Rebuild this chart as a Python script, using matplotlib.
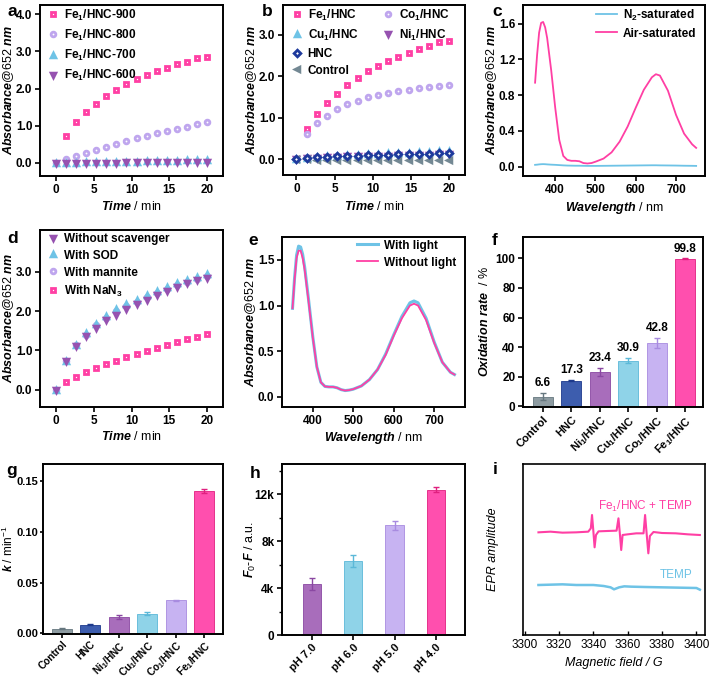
import matplotlib
matplotlib.use("Agg")
import matplotlib.pyplot as plt
import numpy as np
from matplotlib.ticker import MultipleLocator, FuncFormatter

plt.rcParams['font.family'] = ['Liberation Sans', 'DejaVu Sans']
plt.rcParams['mathtext.fontset'] = 'custom'
plt.rcParams['mathtext.it'] = 'Liberation Sans:italic:bold'
plt.rcParams['mathtext.bf'] = 'Liberation Sans:bold'
plt.rcParams['mathtext.rm'] = 'Liberation Sans'
plt.rcParams['axes.linewidth'] = 1.4

# ---------------- colours ----------------
PINK = '#FF3FA4'
LAV = '#BFA6EE'
CYAN = '#6EC3E6'
PURP = '#9652B0'
DBLUE = '#1E3A9C'
GREY = '#738893'

# ---------------- data ----------------
time_min = [0, 1.33, 2.67, 4.0, 5.33, 6.67, 8.0, 9.33, 10.67, 12.0, 13.33, 14.67, 16.0, 17.33, 18.67, 20.0]

a_fe900 = [0.0, 0.72, 1.09, 1.36, 1.58, 1.79, 1.96, 2.12, 2.25, 2.37, 2.47, 2.56, 2.65, 2.73, 2.82, 2.86]
a_fe800 = [0.0, 0.12, 0.20, 0.28, 0.36, 0.43, 0.51, 0.58, 0.66, 0.73, 0.80, 0.86, 0.92, 0.98, 1.04, 1.10]
a_fe700 = [0.0, 0.01, 0.01, 0.02, 0.02, 0.03, 0.03, 0.04, 0.04, 0.05, 0.05, 0.06, 0.06, 0.07, 0.07, 0.08]
a_fe600 = [0.0, 0.0, 0.0, 0.01, 0.01, 0.01, 0.01, 0.02, 0.02, 0.02, 0.02, 0.02, 0.03, 0.03, 0.03, 0.03]

b_fe = [0.0, 0.72, 1.09, 1.36, 1.58, 1.79, 1.96, 2.12, 2.25, 2.37, 2.47, 2.56, 2.65, 2.73, 2.82, 2.86]
b_co = [0.0, 0.60, 0.88, 1.05, 1.20, 1.33, 1.41, 1.49, 1.55, 1.60, 1.64, 1.68, 1.71, 1.74, 1.76, 1.78]
b_cu = [0.0, 0.04, 0.06, 0.08, 0.09, 0.10, 0.11, 0.12, 0.13, 0.14, 0.15, 0.16, 0.17, 0.18, 0.19, 0.20]
b_ni = [0.0, 0.03, 0.04, 0.05, 0.06, 0.07, 0.07, 0.08, 0.09, 0.09, 0.10, 0.10, 0.11, 0.11, 0.12, 0.12]
b_hnc = [0.0, 0.03, 0.05, 0.06, 0.07, 0.08, 0.09, 0.10, 0.11, 0.11, 0.12, 0.12, 0.13, 0.13, 0.14, 0.15]
b_ctrl = [0.0, 0.0, -0.01, -0.01, -0.01, -0.02, -0.02, -0.02, -0.02, -0.02, -0.02, -0.02, -0.02, -0.02, -0.02, -0.02]

wl_c = [350, 355, 360, 365, 370, 375, 380, 390, 400, 410, 420, 430, 440, 450, 460, 470, 480, 490, 500,
        520, 540, 560, 580, 600, 620, 640, 650, 660, 680, 700, 720, 740, 750]
c_air = [0.94, 1.25, 1.50, 1.61, 1.62, 1.56, 1.44, 1.08, 0.66, 0.30, 0.12, 0.075, 0.065, 0.065, 0.06, 0.04,
         0.035, 0.04, 0.055, 0.09, 0.16, 0.28, 0.45, 0.66, 0.86, 1.00, 1.035, 1.02, 0.85, 0.58, 0.37, 0.25, 0.21]
c_n2 = [0.02, 0.022, 0.025, 0.027, 0.028, 0.027, 0.025, 0.022, 0.02, 0.017, 0.014, 0.012, 0.011, 0.01, 0.01,
        0.009, 0.008, 0.008, 0.008, 0.009, 0.01, 0.011, 0.012, 0.013, 0.014, 0.015, 0.015, 0.014, 0.013,
        0.012, 0.01, 0.009, 0.008]

d_without = [0.0, 0.72, 1.10, 1.37, 1.58, 1.76, 1.91, 2.05, 2.17, 2.28, 2.40, 2.50, 2.60, 2.70, 2.78, 2.85]
d_sod = [0.0, 0.72, 1.13, 1.43, 1.68, 1.87, 2.04, 2.17, 2.28, 2.40, 2.50, 2.60, 2.70, 2.78, 2.86, 2.93]
d_mannite = [0.0, 0.72, 1.13, 1.40, 1.64, 1.83, 1.99, 2.12, 2.24, 2.35, 2.46, 2.56, 2.65, 2.74, 2.82, 2.90]
d_nan3 = [0.0, 0.19, 0.32, 0.45, 0.55, 0.65, 0.74, 0.83, 0.91, 0.99, 1.07, 1.14, 1.21, 1.28, 1.34, 1.41]

wl_e = [350, 355, 360, 365, 370, 375, 380, 390, 400, 410, 420, 430, 440, 450, 460, 470, 480, 490, 500,
        520, 540, 560, 580, 600, 620, 640, 650, 660, 680, 700, 720, 740, 750]
e_light = [0.97, 1.30, 1.55, 1.65, 1.64, 1.56, 1.42, 1.05, 0.66, 0.33, 0.16, 0.115, 0.11, 0.11, 0.10, 0.08,
           0.07, 0.075, 0.085, 0.12, 0.19, 0.30, 0.47, 0.68, 0.88, 1.03, 1.05, 1.03, 0.86, 0.60, 0.38, 0.27, 0.245]
e_dark = [0.97, 1.28, 1.52, 1.60, 1.60, 1.52, 1.39, 1.03, 0.65, 0.33, 0.16, 0.115, 0.11, 0.11, 0.10, 0.08,
          0.07, 0.075, 0.085, 0.12, 0.19, 0.30, 0.46, 0.67, 0.86, 1.00, 1.02, 1.00, 0.84, 0.59, 0.38, 0.27, 0.245]

cat_f = ['Control', 'HNC', r'Ni$_\mathbf{1}$/HNC', r'Cu$_\mathbf{1}$/HNC', r'Co$_\mathbf{1}$/HNC', r'Fe$_\mathbf{1}$/HNC']
f_rate = [6.6, 17.3, 23.4, 30.9, 42.8, 99.8]
f_err = [2.5, 0.5, 2.8, 1.8, 3.5, 0.3]
bar_colors = ['#8E9CA2', '#3D5DAE', '#A86DBB', '#8FD3E8', '#C7B3F2', '#FF4FAE']
err_colors = ['#66777F', '#1E3A8C', '#8A48A2', '#5BB8D8', '#A88BE0', '#E0207F']

g_k = [0.0045, 0.0085, 0.0165, 0.0195, 0.0325, 0.140]
g_err = [0.0005, 0.0006, 0.0020, 0.0015, 0.0007, 0.0020]

cat_h = ['pH 7.0', 'pH 6.0', 'pH 5.0', 'pH 4.0']
h_val = [4350, 6300, 9350, 12400]
h_err = [500, 500, 380, 220]
h_colors = ['#A86DBB', '#8FD3E8', '#C7B3F2', '#FF4FAE']
h_ecolors = ['#8A48A2', '#5BB8D8', '#A88BE0', '#E0207F']

field_p = [3308, 3315, 3322, 3330, 3337, 3338.5, 3339.2, 3340.0, 3340.7, 3341.5, 3343, 3348, 3353.5, 3354.6,
           3355.4, 3356.2, 3357.0, 3360, 3365, 3369.2, 3370.1, 3371.0, 3372.0, 3372.9, 3375, 3380, 3388, 3395, 3402]
epr_p = [6.16, 6.2, 6.14, 6.16, 6.2, 6.4, 7.2, 6.2, 5.26, 6.0, 6.22, 6.24, 6.26, 7.0, 6.1, 5.1, 6.0, 6.04, 6.1,
         6.1, 7.2, 6.1, 4.9, 5.94, 6.18, 6.12, 6.1, 6.04, 6.0]
field_c = [3308, 3315, 3322, 3330, 3340, 3346, 3350, 3352, 3355, 3358, 3362, 3370, 3380, 3390, 3400, 3402]
epr_c = [3.0, 3.02, 3.04, 3.0, 3.0, 2.94, 2.86, 2.74, 2.86, 2.92, 2.9, 2.88, 2.86, 2.84, 2.82, 2.72]

# ---------------- figure ----------------
fig = plt.figure(figsize=(7.09, 6.81), dpi=100)
W, H = 709.0, 681.0


def add_ax(x0, y0, x1, y1):
    return fig.add_axes([x0 / W, 1 - y1 / H, (x1 - x0) / W, (y1 - y0) / H])


TICK_FS = 8.5
LAB_FS = 9


def style(ax, out=True):
    ax.tick_params(direction='out' if out else 'in', length=3.5, width=1.2, labelsize=TICK_FS, pad=2)
    for lab in ax.get_xticklabels() + ax.get_yticklabels():
        lab.set_fontweight('bold')


def mk(ax, x, y, marker, color, label, z):
    ax.plot(x, y, linestyle='none', marker=marker, ms=3.4, mfc='white', mec=color, mew=2.0,
            label=label, zorder=z)


ABS_LABEL = r'$\mathit{Absorbance@652\ nm}$'
TIME_LABEL = r'$\mathit{Time}$ / min'
WL_LABEL = r'$\mathit{Wavelength}$ / nm'

leg_kw = dict(frameon=False, prop={'weight': 'bold', 'size': 8.5}, borderaxespad=0, borderpad=0,
              handletextpad=0.5, labelspacing=0.42)

# ---- a ----
ax = add_ax(40, 5, 223, 176)
mk(ax, time_min, a_fe900, 's', PINK, r'Fe$_\mathbf{1}$/HNC-900', 3)
mk(ax, time_min, a_fe800, 'o', LAV, r'Fe$_\mathbf{1}$/HNC-800', 4)
mk(ax, time_min, a_fe700, '^', CYAN, r'Fe$_\mathbf{1}$/HNC-700', 5)
mk(ax, time_min, a_fe600, 'v', PURP, r'Fe$_\mathbf{1}$/HNC-600', 6)
ax.set_xlim(-2.1, 22.1)
ax.set_ylim(-0.35, 4.25)
ax.set_xticks([0, 5, 10, 15, 20])
ax.set_yticks([0, 1, 2, 3, 4])
ax.yaxis.set_major_formatter(FuncFormatter(lambda v, p: f'{v:.1f}'))
style(ax)
ax.legend(loc='upper left', bbox_to_anchor=(0.04, 0.985), handlelength=0.9, **leg_kw)
ax.set_ylabel(ABS_LABEL, fontsize=LAB_FS)
ax.yaxis.set_label_coords(-0.13, 0.5)
ax.set_xlabel(TIME_LABEL, fontsize=LAB_FS)
ax.xaxis.set_label_coords(0.5, -0.14)

# ---- b ----
ax = add_ax(283, 5, 465, 175)
mk(ax, time_min, b_fe, 's', PINK, r'Fe$_\mathbf{1}$/HNC', 3)
mk(ax, time_min, b_co, 'o', LAV, r'Co$_\mathbf{1}$/HNC', 4)
mk(ax, time_min, b_cu, '^', CYAN, r'Cu$_\mathbf{1}$/HNC', 5)
mk(ax, time_min, b_ni, 'v', PURP, r'Ni$_\mathbf{1}$/HNC', 6)
mk(ax, time_min, b_ctrl, '<', GREY, 'Control', 7)
mk(ax, time_min, b_hnc, 'D', DBLUE, 'HNC', 8)
ax.set_xlim(-1.75, 22.05)
ax.set_ylim(-0.38, 3.72)
ax.set_xticks([0, 5, 10, 15, 20])
ax.set_yticks([0, 1, 2, 3])
ax.yaxis.set_major_formatter(FuncFormatter(lambda v, p: f'{v:.1f}'))
style(ax)
hs, ls = ax.get_legend_handles_labels()
d = dict(zip(ls, hs))
k1 = [r'Fe$_\mathbf{1}$/HNC', r'Cu$_\mathbf{1}$/HNC', 'HNC', 'Control']
k2 = [r'Co$_\mathbf{1}$/HNC', r'Ni$_\mathbf{1}$/HNC']
l1 = ax.legend([d[k] for k in k1], k1, loc='upper left', bbox_to_anchor=(0.045, 0.985), handlelength=0.9, **leg_kw)
ax.add_artist(l1)
ax.legend([d[k] for k in k2], k2, loc='upper left', bbox_to_anchor=(0.545, 0.985), handlelength=0.9, **leg_kw)
ax.set_ylabel(ABS_LABEL, fontsize=LAB_FS)
ax.yaxis.set_label_coords(-0.13, 0.5)
ax.set_xlabel(TIME_LABEL, fontsize=LAB_FS)
ax.xaxis.set_label_coords(0.5, -0.147)

# ---- c ----
ax = add_ax(523, 5, 705, 176)
ax.plot(wl_c, c_n2, color=CYAN, lw=1.3, label=r'N$_\mathbf{2}$-saturated')
ax.plot(wl_c, c_air, color=PINK, lw=1.3, label='Air-saturated')
ax.set_xlim(320, 772)
ax.set_ylim(-0.105, 1.81)
ax.set_xticks([400, 500, 600, 700])
ax.set_yticks([0, 0.4, 0.8, 1.2, 1.6])
ax.yaxis.set_major_formatter(FuncFormatter(lambda v, p: f'{v:.1f}'))
style(ax)
ax.legend(loc='upper left', bbox_to_anchor=(0.4, 0.985), handlelength=1.8, **leg_kw)
ax.set_ylabel(ABS_LABEL, fontsize=LAB_FS)
ax.yaxis.set_label_coords(-0.13, 0.5)
ax.set_xlabel(WL_LABEL, fontsize=LAB_FS)
ax.xaxis.set_label_coords(0.5, -0.14)

# ---- d ----
ax = add_ax(40, 230, 223, 407)
mk(ax, time_min, d_nan3, 's', PINK, r'With NaN$_\mathbf{3}$', 3)
mk(ax, time_min, d_mannite, 'o', LAV, 'With mannite', 4)
mk(ax, time_min, d_sod, '^', CYAN, 'With SOD', 5)
mk(ax, time_min, d_without, 'v', PURP, 'Without scavenger', 6)
ax.set_xlim(-2.1, 22.1)
ax.set_ylim(-0.44, 4.06)
ax.set_xticks([0, 5, 10, 15, 20])
ax.set_yticks([0, 1, 2, 3])
ax.yaxis.set_major_formatter(FuncFormatter(lambda v, p: f'{v:.1f}'))
style(ax)
hs, ls = ax.get_legend_handles_labels()
ax.legend(hs[::-1], ls[::-1], loc='upper left', bbox_to_anchor=(0.04, 0.985), handlelength=0.9, **leg_kw)
ax.set_ylabel(ABS_LABEL, fontsize=LAB_FS)
ax.yaxis.set_label_coords(-0.13, 0.5)
ax.set_xlabel(TIME_LABEL, fontsize=LAB_FS)
ax.xaxis.set_label_coords(0.5, -0.13)

# ---- e ----
ax = add_ax(282, 237, 465, 407)
ax.plot(wl_e, e_light, color=CYAN, lw=2.2, label='With light')
ax.plot(wl_e, e_dark, color=PINK, lw=1.3, label='Without light')
ax.set_xlim(324, 776)
ax.set_ylim(-0.11, 1.75)
ax.set_xticks([400, 500, 600, 700])
ax.set_yticks([0, 0.5, 1.0, 1.5])
ax.yaxis.set_major_formatter(FuncFormatter(lambda v, p: f'{v:.1f}'))
style(ax)
ax.legend(loc='upper left', bbox_to_anchor=(0.41, 0.985), handlelength=1.8, **leg_kw)
ax.set_ylabel(ABS_LABEL, fontsize=LAB_FS)
ax.yaxis.set_label_coords(-0.13, 0.5)
ax.set_xlabel(WL_LABEL, fontsize=LAB_FS)
ax.xaxis.set_label_coords(0.5, -0.135)


def bars(ax, cats, vals, errs, cols, ecols, width):
    x = np.arange(len(cats))
    for i in range(len(cats)):
        ax.bar(x[i], vals[i], width=width, color=cols[i], edgecolor=ecols[i], linewidth=0.6, zorder=2)
        ax.errorbar(x[i], vals[i], yerr=errs[i], color=ecols[i], capsize=2.2, elinewidth=1.0,
                    capthick=1.0, zorder=3)
    ax.set_xticks(x)
    ax.set_xticklabels(cats, rotation=45, ha='right', rotation_mode='anchor')
    return x


def rot_style(ax, fs=8):
    for lab in ax.get_xticklabels():
        lab.set_fontsize(fs)
    ax.tick_params(axis='x', pad=1.5)


# ---- f ----
ax = add_ax(523, 237, 703, 407)
x = bars(ax, cat_f, f_rate, f_err, bar_colors, err_colors, 0.7)
for i in range(len(x)):
    ax.text(x[i], f_rate[i] + f_err[i] + 2.5, f'{f_rate[i]:.1f}', ha='center', va='bottom',
            fontsize=8.5, fontweight='bold')
ax.set_xlim(-0.7, 5.62)
ax.set_ylim(-0.5, 114.5)
ax.set_yticks([0, 20, 40, 60, 80, 100])
style(ax)
rot_style(ax)
ax.set_ylabel(r'$\mathit{Oxidation\ rate}$  / %', fontsize=LAB_FS)
ax.yaxis.set_label_coords(-0.18, 0.5)

# ---- g ----
ax = add_ax(43, 464, 223, 634)
bars(ax, cat_f, g_k, g_err, bar_colors, err_colors, 0.7)
ax.set_xlim(-0.67, 5.67)
ax.set_ylim(-0.0006, 0.1665)
ax.set_yticks([0, 0.05, 0.10, 0.15])
ax.yaxis.set_major_formatter(FuncFormatter(lambda v, p: f'{v:.2f}'))
style(ax)
ax.tick_params(axis='y', length=2.5, pad=1, labelsize=8)
rot_style(ax, 7.3)
ax.tick_params(axis='x', length=3, pad=0.5)
ax.set_ylabel(r'$\mathit{k}$ / min$^{\mathrm{-1}}$', fontsize=8.5)
ax.yaxis.set_label_coords(-0.15, 0.5)

# ---- h ----
ax = add_ax(282, 464, 465, 635)
bars(ax, cat_h, h_val, h_err, h_colors, h_ecolors, 0.44)
ax.set_xlim(-0.73, 3.71)
ax.set_ylim(0, 14600)
ax.set_yticks([0, 4000, 8000, 12000])
ax.set_yticklabels(['0', '4k', '8k', '12k'])
ax.yaxis.set_minor_locator(MultipleLocator(2000))
ax.tick_params(axis='y', which='minor', direction='out', length=2, width=1.0)
style(ax)
rot_style(ax)
ax.set_ylabel(r'$\mathit{F_0}$-$\mathit{F}$ / a.u.', fontsize=LAB_FS)
ax.yaxis.set_label_coords(-0.13, 0.5)

# ---- i ----
ax = add_ax(523, 464, 705, 635)
ax.plot(field_p, epr_p, color=PINK, lw=1.5)
ax.plot(field_c, epr_c, color=CYAN, lw=1.8)
ax.set_xlim(3299, 3405)
ax.set_ylim(0, 10.26)
ax.set_xticks([3300, 3320, 3340, 3360, 3380, 3400])
ax.set_yticks([])
ax.tick_params(axis='x', direction='in', length=3, width=1.0, labelsize=8.5, pad=3)
for s in ax.spines.values():
    s.set_linewidth(1.2)
ax.text(3398, 7.7, r'Fe$_1$/HNC + TEMP', color=PINK, ha='right', va='center', fontsize=8.5)
ax.text(3398, 3.6, 'TEMP', color=CYAN, ha='right', va='center', fontsize=8.5)
ax.set_ylabel('EPR amplitude', fontsize=LAB_FS, fontstyle='italic')
ax.yaxis.set_label_coords(-0.13, 0.5)
ax.set_xlabel('Magnetic field / G', fontsize=LAB_FS, fontstyle='italic')
ax.xaxis.set_label_coords(0.5, -0.13)

# ---- panel letters ----
letters = [('a', 7, 12), ('b', 262, 12), ('c', 492, 12), ('d', 7, 238), ('e', 248, 240),
           ('f', 492, 240), ('g', 6, 471), ('h', 250, 473), ('i', 493, 470)]
for t, px, py in letters:
    fig.text(px / W, 1 - py / H, t, fontsize=12.5, fontweight='bold', ha='left', va='center')

fig.savefig('out.png', dpi=100)
